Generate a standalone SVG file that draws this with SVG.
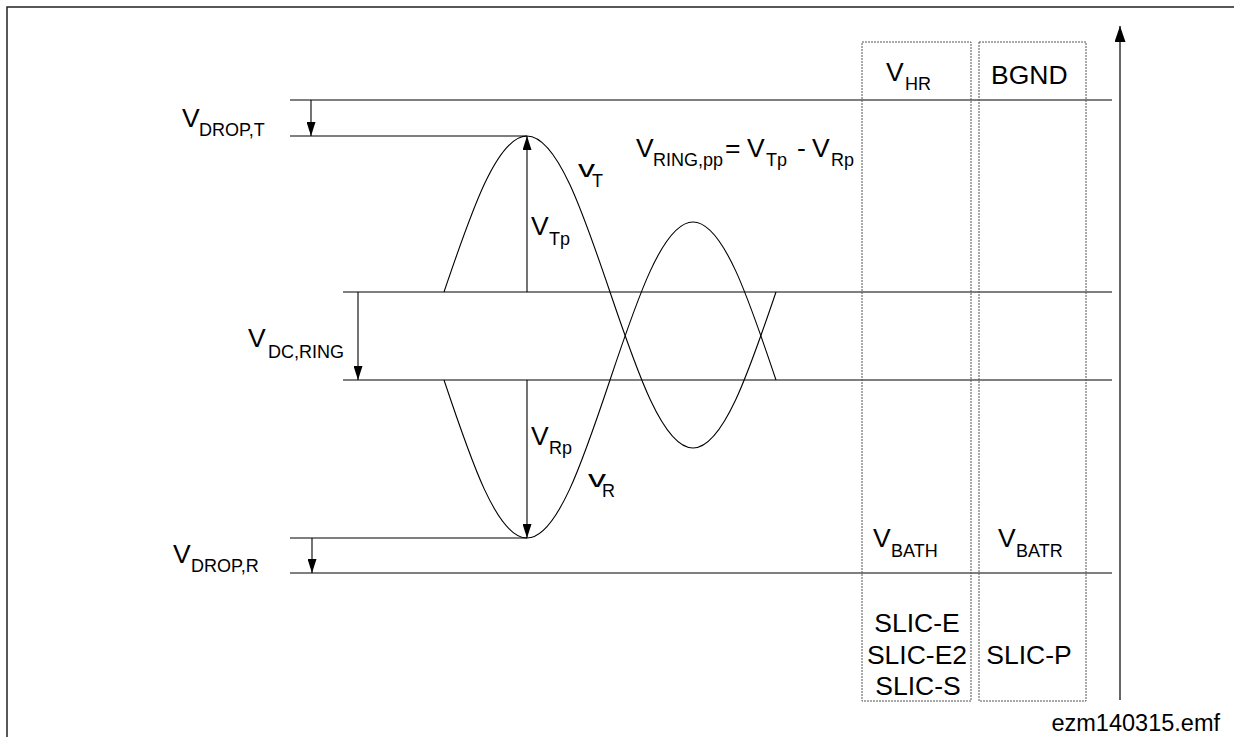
<svg xmlns="http://www.w3.org/2000/svg" width="1234" height="737" viewBox="0 0 1234 737">
<style>
text{font-family:"Liberation Sans",Arial,sans-serif;fill:#000}
.m{font-size:26.5px}
.s{font-size:18px}
.ln{stroke:#000;stroke-width:1.1;fill:none}
.wave{stroke:#000;stroke-width:1.1;fill:none}
.box{stroke:#555;stroke-width:1;stroke-dasharray:2 1;fill:none}
.arr{stroke:#000;stroke-width:1.1;fill:none;marker-end:url(#ah)}
</style>
<defs>
<marker id="ah" viewBox="0 0 14 9" refX="14" refY="4.5" markerWidth="14" markerHeight="9" markerUnits="userSpaceOnUse" orient="auto"><path d="M0,0 L14,4.5 L0,9 Z" fill="#000"/></marker>
<marker id="ahBig" viewBox="0 0 16 11" refX="16" refY="5.5" markerWidth="16" markerHeight="11" markerUnits="userSpaceOnUse" orient="auto"><path d="M0,0 L16,5.5 L0,11 Z" fill="#000"/></marker>
</defs>
<rect x="7" y="7" width="1240" height="740" fill="#fff" stroke="#222" stroke-width="1.5"/>
<g id="levels">
<line class="ln" x1="290" y1="100" x2="1112" y2="100"/>
<line class="ln" x1="290" y1="136" x2="527" y2="136"/>
<line class="ln" x1="343" y1="292" x2="1112" y2="292"/>
<line class="ln" x1="343" y1="380" x2="1112" y2="380"/>
<line class="ln" x1="290" y1="538" x2="527" y2="538"/>
<line class="ln" x1="290" y1="573" x2="1112" y2="573"/>
</g>
<g id="waves">
<path id="vT" class="wave" d="M444,292 C471.1,212 497,136 527,136 C557,136 582.9,212 610,292 C637.1,372 663,448 693,448 C723,448 748.9,372 776,292"/>
<path id="vR" class="wave" d="M444,380 C471.1,461 497,538 527,538 C557,538 582.9,461 610,380 C637.1,299 663,222 693,222 C723,222 748.9,299 776,380"/>
</g>
<g id="connectors">
<line class="arr" x1="311" y1="100" x2="311" y2="136"/>
<line class="arr" x1="358" y1="292" x2="358" y2="380"/>
<line class="arr" x1="312" y1="538" x2="312" y2="573"/>
<line class="arr" x1="527" y1="292" x2="527" y2="136"/>
<line class="arr" x1="527" y1="380" x2="527" y2="538"/>
<line x1="1120" y1="700" x2="1120" y2="26" stroke="#000" stroke-width="1.2" marker-end="url(#ahBig)"/>
</g>
<g id="box-hr">
<rect class="box" x="862" y="42" width="109" height="659"/>
<text class="m" x="886" y="81">V<tspan class="s" x="905" y="90">HR</tspan></text>
<text class="m" x="873" y="547">V<tspan class="s" x="891" y="557">BATH</tspan></text>
<text class="m" text-anchor="middle" x="917" y="632">SLIC-E</text>
<text class="m" text-anchor="middle" x="917" y="664">SLIC-E2</text>
<text class="m" text-anchor="middle" x="918" y="695">SLIC-S</text>
</g>
<g id="box-bgnd">
<rect class="box" x="979" y="42" width="107" height="659"/>
<text class="m" x="991" y="84">BGND</text>
<text class="m" x="998" y="547">V<tspan class="s" x="1016" y="557">BATR</tspan></text>
<text class="m" text-anchor="middle" x="1029" y="664">SLIC-P</text>
</g>
<g id="labels">
<text class="m" x="182" y="127">V<tspan class="s" x="199" y="136">DROP,T</tspan></text>
<text class="m" x="248" y="347">V<tspan class="s" x="268" y="358">DC,RING</tspan></text>
<text class="m" x="173" y="563">V<tspan class="s" x="191" y="572">DROP,R</tspan></text>
<text class="m" x="531" y="235">V<tspan class="s" x="549" y="245">Tp</tspan></text>
<text class="m" x="531" y="445">V<tspan class="s" x="549" y="454">Rp</tspan></text>
<text x="578" y="177" font-size="23" textLength="17" lengthAdjust="spacingAndGlyphs">v</text>
<text class="s" x="592" y="187">T</text>
<text x="588" y="487" font-size="23" textLength="18" lengthAdjust="spacingAndGlyphs">v</text>
<text class="s" x="602" y="497">R</text>
<text class="m" x="636" y="157">V<tspan class="s" x="653" y="166">RING,pp</tspan><tspan x="725" y="157">=</tspan><tspan x="747" y="157">V</tspan><tspan class="s" x="766" y="166">Tp</tspan><tspan x="797" y="157">-</tspan><tspan x="812" y="157">V</tspan><tspan class="s" x="831" y="166">Rp</tspan></text>
<text x="1220" y="731" font-size="23.5" text-anchor="end">ezm140315.emf</text>
</g>
</svg>
